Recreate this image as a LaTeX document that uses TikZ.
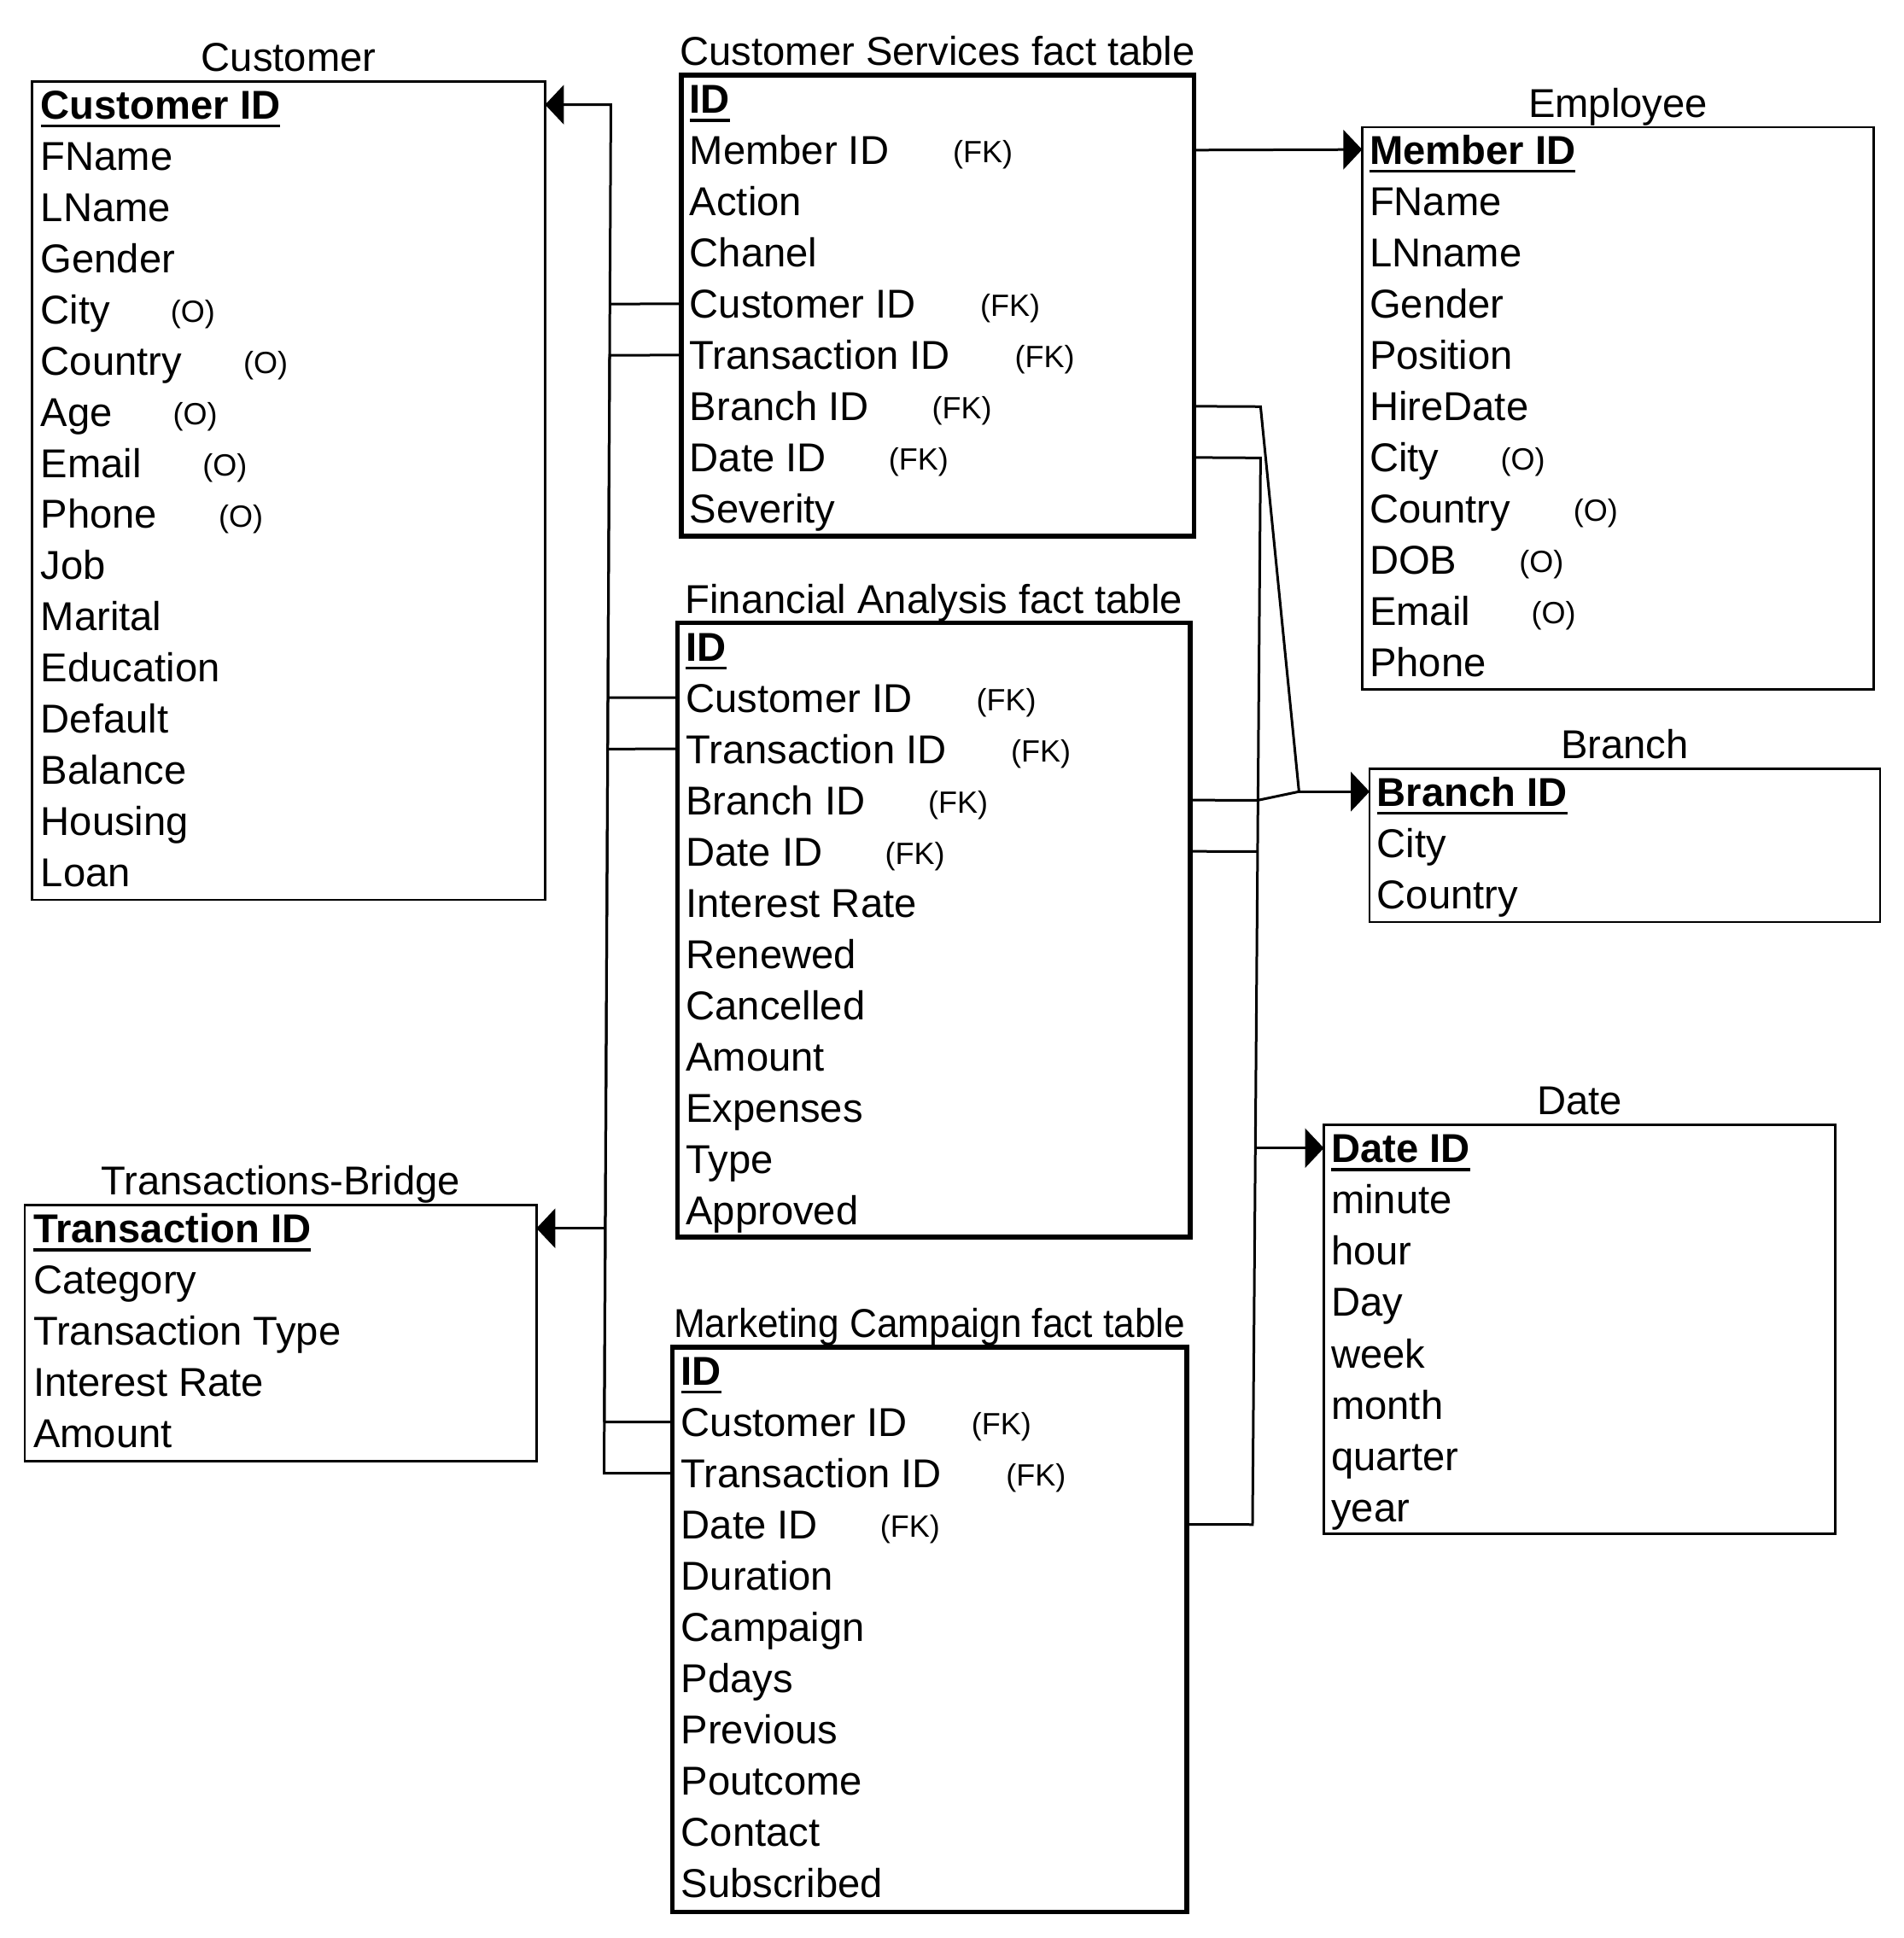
\documentclass[tikz,border=0pt]{standalone}
\usepackage{fontspec}
\setmainfont{Liberation Sans}
\usetikzlibrary{arrows.meta,fit,calc}

\begin{document}
\begin{tikzpicture}[x=0.362pt,y=-0.362pt,
  every node/.style={inner sep=0pt, outer sep=0pt},
  tbl/.style={draw, line width=0.7pt, inner sep=0pt},
  fact/.style={draw, line width=1.4pt, inner sep=0pt},
  field/.style={anchor=west, font=\fontsize{11.8pt}{14pt}\selectfont, text height=8.45pt, text depth=0pt},
  keyfield/.style={field, font=\fontsize{11.8pt}{14pt}\selectfont\bfseries},
  note/.style={anchor=base west, font=\fontsize{9pt}{11pt}\selectfont},
  ttl/.style={anchor=base, font=\fontsize{11.8pt}{14pt}\selectfont},
  link/.style={line width=0.75pt},
  ref/.style={link, -{Triangle[length=5.5pt,width=11.5pt]}},
  uline/.style={line width=0.8pt}
]
\useasboundingbox (0,0) rectangle (1540,1568);

% ---------- tables ----------
\node[tbl,  fit={(26,66) (441,728)}]     (cust) {};
\node[fact, fit={(551,61) (966,434)}]    (cs)   {};
\node[tbl,  fit={(1102,103) (1516,558)}] (emp)  {};
\node[fact, fit={(548,504) (963,1001)}]  (fa)   {};
\node[tbl,  fit={(1108,622) (1521,746)}] (br)   {};
\node[tbl,  fit={(1071,910) (1485,1241)}] (dt)  {};
\node[tbl,  fit={(20,975) (434,1182)}]   (tb)   {};
\node[fact, fit={(544,1090) (960,1547)}] (mc)   {};

% ---------- titles ----------
\node[ttl] (cust-t) at ($(cust.north)+(0,-8)$) {Customer};
\node[ttl] (cs-t)   at ($(cs.north)+(0,-8)$)   {Customer Services fact table};
\node[ttl] (emp-t)  at ($(emp.north)+(0,-8)$)  {Employee};
\node[ttl] (fa-t)   at ($(fa.north)+(0,-8)$)   {Financial Analysis fact table};
\node[ttl] (br-t)   at ($(br.north)+(0,-8)$)   {Branch};
\node[ttl] (dt-t)   at ($(dt.north)+(0,-8)$)   {Date};
\node[ttl] (tb-t)   at ($(tb.north)+(0,-8)$)   {Transactions-Bridge};
\node[ttl] (mc-t)   at ($(mc.north)+(0,-8)$)   {\scalebox{0.936}[1]{Marketing Campaign fact table}};

% ---------- key fields ----------
\node[keyfield] (cust-0) at (33,84.7)    {Customer ID};
\node[keyfield] (cs-0)   at (558,80)     {ID};
\node[keyfield] (emp-0)  at (1108,121)   {Member ID};
\node[keyfield] (fa-0)   at (555,523)    {ID};
\node[keyfield] (br-0)   at (1114,640.5) {Branch ID};
\node[keyfield] (dt-0)   at (1077,928.9) {Date ID};
\node[keyfield] (tb-0)   at (27,993.8)   {Transaction ID};
\node[keyfield] (mc-0)   at (551,1109)   {ID};
\foreach \k in {cust-0,cs-0,emp-0,fa-0,br-0,dt-0,tb-0,mc-0}
  \draw[uline] ([yshift=-2.1pt]\k.south west) -- ([yshift=-2.1pt]\k.south east);

% ---------- other fields ----------
\foreach \t [count=\i] in {FName,LName,Gender,City,Country,Age,Email,Phone,Job,Marital,Education,Default,Balance,Housing,Loan}
  \node[field] (cust-\i) at (33,{84.7+41.4*\i}) {\t};
\foreach \t [count=\i] in {Member ID,Action,Chanel,Customer ID,Transaction ID,Branch ID,Date ID,Severity}
  \node[field] (cs-\i) at (558,{80+41.45*\i}) {\t};
\foreach \t [count=\i] in {FName,LNname,Gender,Position,HireDate,City,Country,DOB,Email,Phone}
  \node[field] (emp-\i) at (1108,{121+41.5*\i}) {\t};
\foreach \t [count=\i] in {Customer ID,Transaction ID,Branch ID,Date ID,Interest Rate,Renewed,Cancelled,Amount,Expenses,Type,Approved}
  \node[field] (fa-\i) at (555,{523+41.45*\i}) {\t};
\foreach \t [count=\i] in {City,Country}
  \node[field] (br-\i) at (1114,{640.5+41.5*\i}) {\t};
\foreach \t [count=\i] in {minute,hour,Day,week,month,quarter,year}
  \node[field] (dt-\i) at (1077,{928.9+41.5*\i}) {\t};
\foreach \t [count=\i] in {Category,Transaction Type,Interest Rate,Amount}
  \node[field] (tb-\i) at (27,{993.8+41.5*\i}) {\t};
\foreach \t [count=\i] in {Customer ID,Transaction ID,Date ID,Duration,Campaign,Pdays,Previous,Poutcome,Contact,Subscribed}
  \node[field] (mc-\i) at (551,{1109+41.45*\i}) {\t};

% ---------- optional / foreign key marks ----------
\node[note] (cust-o4) at (138,{84.7+41.4*4+10.3}) {(O)};
\node[note] (cust-o5) at (197,{84.7+41.4*5+10.3}) {(O)};
\node[note] (cust-o6) at (140,{84.7+41.4*6+10.3}) {(O)};
\node[note] (cust-o7) at (164,{84.7+41.4*7+10.3}) {(O)};
\node[note] (cust-o8) at (177,{84.7+41.4*8+10.3}) {(O)};

\node[note] (cs-k1) at (771,{80+41.45*1+10.3}) {(FK)};
\node[note] (cs-k4) at (793,{80+41.45*4+10.3}) {(FK)};
\node[note] (cs-k5) at (821,{80+41.45*5+10.3}) {(FK)};
\node[note] (cs-k6) at (754,{80+41.45*6+10.3}) {(FK)};
\node[note] (cs-k7) at (719,{80+41.45*7+10.3}) {(FK)};

\node[note] (emp-o6) at (1214,{121+41.5*6+10.3}) {(O)};
\node[note] (emp-o7) at (1273,{121+41.5*7+10.3}) {(O)};
\node[note] (emp-o8) at (1229,{121+41.5*8+10.3}) {(O)};
\node[note] (emp-o9) at (1239,{121+41.5*9+10.3}) {(O)};

\node[note] (fa-k1) at (790,{523+41.45*1+10.3}) {(FK)};
\node[note] (fa-k2) at (818,{523+41.45*2+10.3}) {(FK)};
\node[note] (fa-k3) at (751,{523+41.45*3+10.3}) {(FK)};
\node[note] (fa-k4) at (716,{523+41.45*4+10.3}) {(FK)};

\node[note] (mc-k1) at (786,{1109+41.45*1+10.3}) {(FK)};
\node[note] (mc-k2) at (814,{1109+41.45*2+10.3}) {(FK)};
\node[note] (mc-k3) at (712,{1109+41.45*3+10.3}) {(FK)};

% ---------- left bus: customer references ----------
\coordinate (lb-c0) at (494.2,84.7);
\coordinate (lb-c1) at (493.4,246);
\coordinate (lb-c2) at (491.8,564.5);
\coordinate (lb-c3) at (488.9,1150.5);
\draw[ref]  (lb-c3) -- (lb-c0) -- (cust.east |- cust-0);
\draw[link] (cs.west |- cs-4) -- (lb-c1);
\draw[link] (fa.west |- fa-1) -- (lb-c2);
\draw[link] (lb-c3) -- (mc.west |- mc-1);

% ---------- left bus: transaction references ----------
\coordinate (lb-t0) at (493.2,287.5);
\coordinate (lb-t1) at (491.6,606);
\coordinate (lb-t2) at (489.7,993.8);
\coordinate (lb-t3) at (488.7,1192);
\draw[link] (cs.west |- cs-5) -- (lb-t0) -- (lb-t3) -- (mc.west |- mc-2);
\draw[link] (fa.west |- fa-2) -- (lb-t1);
\draw[ref]  (lb-t2) -- (tb.east |- tb-0);

% ---------- employee reference ----------
\draw[ref] (cs.east |- cs-1) -- (emp.west |- emp-0);

% ---------- branch references ----------
\coordinate (rb-b0) at (1019.8,329);
\coordinate (rb-b1) at (1017.5,647.5);
\coordinate (rb-bj) at (1050.9,640.5);
\draw[link] (cs.east |- cs-6) -- (rb-b0) -- (rb-bj);
\draw[link] (fa.east |- fa-3) -- (rb-b1) -- (rb-bj);
\draw[ref]  (rb-bj) -- (br.west |- br-0);

% ---------- date references ----------
\coordinate (rb-d0) at (1019.8,370.5);
\coordinate (rb-d1) at (1017.4,689);
\coordinate (rb-d2) at (1015.6,928.9);
\coordinate (rb-d3) at (1013.3,1233.5);
\draw[link] (cs.east |- cs-7) -- (rb-d0) -- (rb-d3) -- (mc.east |- mc-3);
\draw[link] (fa.east |- fa-4) -- (rb-d1);
\draw[ref]  (rb-d2) -- (dt.west |- dt-0);
\end{tikzpicture}
\end{document}
